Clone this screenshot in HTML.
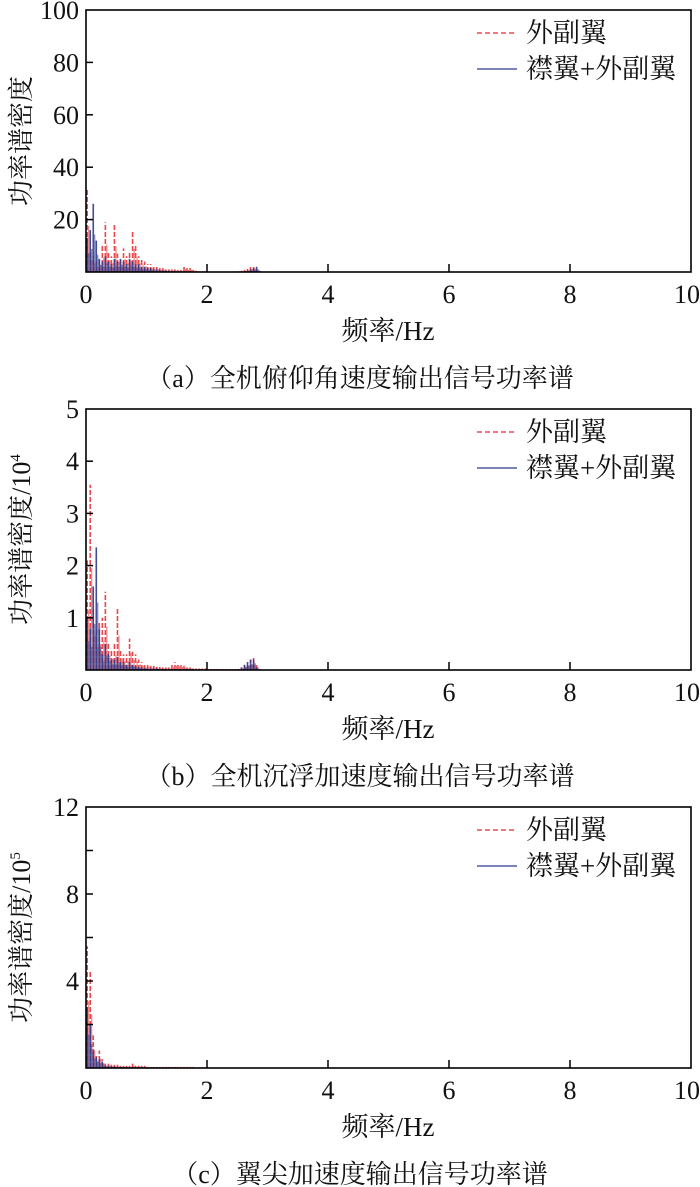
<!DOCTYPE html>
<html><head><meta charset="utf-8">
<style>
html,body{margin:0;padding:0;background:#fff;}
svg{display:block;font-family:"Liberation Serif","Noto Serif CJK SC",serif;}
</style></head>
<body>
<svg id="chart" width="700" height="1187" viewBox="0 0 700 1187"></svg>
<script>
const freqs = [0.02,0.07,0.12,0.17,0.22,0.27,0.32,0.37,0.42,0.47,
0.52,0.57,0.62,0.67,0.72,0.77,0.82,0.87,0.92,0.97,
1.02,1.07,1.12,1.17,1.22,1.27,1.32,1.37,1.42,1.47,
1.52,1.57,1.62,1.67,1.72,1.77,1.82,1.87,1.92,1.97,
2.02,2.07,2.12,2.17,2.22,2.27,2.32,2.37,2.42,2.47,
2.52,2.57,2.62,2.67,2.72,2.77,2.82,2.87];
const xTicks = [0,2,4,6,8,10];
const redA = [32,8,6,4,5,10,19,8,6,18, 7,5,9,6,8,16,10,6,5,4, 3,3,2,2,1.5,1.5,1,1,1,1, 0.8,0.8,2,1.5,1.5,0.8,0.5,0.3,0.3,0.3, 0.2,0.2,0.2,0.2,0.2,0.2,0.2,0.2,0.2,0.3, 0.3,0.5,0.8,1.2,2,2.5,0.8,0.1];
const blueA = [13,16,26,12,5,4,6,4,3,5, 4,5,4,3,5,4,3,3,2,2, 1.5,1.5,1,1,0.8,0.6,0.5,0.5,0.4,0.4, 0.3,0.3,0.3,0.3,0.3,0.2,0.2,0.2,0.2,0.2, 0.1,0.1,0.1,0.1,0.1,0.1,0.1,0.1,0.1,0.1, 0.1,0.2,0.3,0.5,1,1.5,2,0.5];
const redB = [2.1,3.55,1.2,0.8,0.9,1.0,1.5,0.5,0.4,0.5, 1.2,0.4,0.3,0.3,0.6,0.35,0.3,0.2,0.15,0.1, 0.1,0.08,0.08,0.06,0.06,0.05,0.05,0.05,0.1,0.15, 0.12,0.1,0.08,0.05,0.05,0.03,0.03,0.03,0.03,0.03, 0.02,0.02,0.02,0.02,0.02,0.02,0.02,0.02,0.02,0.02, 0.02,0.05,0.1,0.15,0.2,0.25,0.1,0.02];
const blueB = [1.0,0.8,1.6,2.35,0.8,0.3,0.5,0.3,0.2,0.2, 0.25,0.15,0.15,0.1,0.15,0.1,0.08,0.06,0.05,0.04, 0.03,0.03,0.03,0.03,0.02,0.02,0.02,0.02,0.02,0.02, 0.02,0.02,0.02,0.02,0.02,0.02,0.01,0.01,0.01,0.01, 0.01,0.01,0.01,0.01,0.01,0.01,0.01,0.01,0.01,0.01, 0.02,0.05,0.1,0.15,0.2,0.2,0.05,0.01];
const redC = [5.6,4.5,1.5,0.6,0.8,0.4,0.2,0.2,0.15,0.15, 0.15,0.1,0.1,0.1,0.1,0.2,0.1,0.1,0.1,0.1, 0.05,0.05,0.05,0.05,0.05,0.05,0.05,0.05,0.05,0.05, 0.05,0.05,0.05,0.05,0.05,0.05,0.03,0.03,0.03,0.03, 0.02,0.02,0.02,0.02,0.02,0.02,0.02,0.02,0.02,0.02, 0.02,0.02,0.02,0.02,0.02,0.02,0.02,0.02];
const blueC = [2.8,2.0,0.8,0.5,0.4,0.3,0.1,0.1,0.08,0.08, 0.05,0.05,0.05,0.04,0.04,0.04,0.03,0.03,0.03,0.03, 0.03,0.03,0.03,0.03,0.03,0.03,0.03,0.03,0.03,0.03, 0.02,0.02,0.02,0.02,0.02,0.02,0.02,0.02,0.02,0.02, 0.01,0.01,0.01,0.01,0.01,0.01,0.01,0.01,0.01,0.01, 0.01,0.01,0.01,0.01,0.01,0.01,0.01,0.01];
const yTicksA = [20,40,60,80,100], yLabelsA = [20,40,60,80,100];
const yTicksB = [1,2,3,4,5], yLabelsB = [1,2,3,4,5];
const yTicksC = [2,4,6,8,10,12], yLabelsC = [4,8,12];

const NS = "http://www.w3.org/2000/svg";
const svg = document.getElementById('chart');
function mk(tag, attrs, parent, text){
  const e = document.createElementNS(NS, tag);
  for (const k in attrs) e.setAttribute(k, attrs[k]);
  if (text !== undefined) e.textContent = text;
  (parent||svg).appendChild(e);
  return e;
}
const L = 86, R = 691;
const panels = [
 {top:10, bot:272, ymax:100, red:redA, blue:blueA, yt:yTicksA, yl:yLabelsA, ytitle:'功率谱密度', sup:'', cap:'（a）全机俯仰角速度输出信号功率谱', id:'a'},
 {top:409, bot:670, ymax:5, red:redB, blue:blueB, yt:yTicksB, yl:yLabelsB, ytitle:'功率谱密度/10', sup:'4', cap:'（b）全机沉浮加速度输出信号功率谱', id:'b'},
 {top:807, bot:1068, ymax:12, red:redC, blue:blueC, yt:yTicksC, yl:yLabelsC, ytitle:'功率谱密度/10', sup:'5', cap:'（c）翼尖加速度输出信号功率谱', id:'c'}
];
panels.forEach(p=>{
  const g = mk('g',{});
  
  
  const xs = v => L + (v/10)*(R-L);
  const ys = v => p.bot - (v/p.ymax)*(p.bot-p.top);
  [['red',p.red,'#e8282c','5,2',0.85],['blue',p.blue,'#2e3a8c','',0.9]].forEach(([nm,arr,col,dash,op])=>{
    const sg = mk('g',{},g);
    
    
    arr.forEach((v,i)=>{
      const x = xs(freqs[i]);
      const a = {x1:x,x2:x,y1:p.bot,y2:ys(v),stroke:col,'stroke-width':1.6,opacity:op};
      if(dash) a['stroke-dasharray']=dash;
      const ln = mk('line',a,sg);
      
      
      const ln2 = mk('line',{x1:x+1.5,x2:x+1.5,y1:p.bot,y2:ys(v*0.55),stroke:col,'stroke-width':1,opacity:op*0.8},sg);
      
      
    });
  });
  const fr = mk('rect',{x:L,y:p.top,width:R-L,height:p.bot-p.top,fill:'none',stroke:'#000','stroke-width':1.6},g);
  
  
  xTicks.forEach(t=>{
    const x = xs(t);
    if(t>0 && t<10) mk('line',{x1:x,x2:x,y1:p.bot,y2:p.bot-8,stroke:'#000','stroke-width':1.5},g);
    const tx = mk('text',{x:t===10?x-4:x,y:p.bot+31,'font-size':26,'text-anchor':'middle',fill:'#111'},g,String(t));
    
    
  });
  p.yt.forEach(t=>{
    const y = ys(t);
    if(t<p.ymax) mk('line',{x1:L,x2:L+7,y1:y,y2:y,stroke:'#000','stroke-width':1.5},g);
  });
  p.yl.forEach(t=>{
    const ty = mk('text',{x:L-7,y:ys(t)+9,'font-size':26,'text-anchor':'end',fill:'#111'},g,String(t));
    
    
  });
  const cy = (p.top+p.bot)/2;
  const yt = mk('text',{x:0,y:0,'font-size':26,'text-anchor':'middle',fill:'#111',transform:`translate(30,${cy}) rotate(-90)`},g,p.ytitle);
  
  
  if(p.sup){ mk('tspan',{'font-size':15,dy:-10},yt,p.sup); }
  const xt = mk('text',{x:388,y:p.bot+68,'font-size':27,'text-anchor':'middle',fill:'#111'},g,'频率/Hz');
  
  
  const cp = mk('text',{x:360,y:p.bot+115,'font-size':26,'text-anchor':'middle',fill:'#111'},g,p.cap);
  
  
  const lg = mk('g',{},g);
  
  
  const y1 = p.top+23, y2 = p.top+59;
  mk('line',{x1:477,x2:517,y1:y1,y2:y1,stroke:'#e8282c','stroke-width':1.3,'stroke-dasharray':'5,3'},lg);
  const t1 = mk('text',{x:526,y:y1+9,'font-size':27,fill:'#111'},lg,'外副翼');
  
  
  mk('line',{x1:477,x2:517,y1:y2,y2:y2,stroke:'#2e3a8c','stroke-width':1.3},lg);
  const t2 = mk('text',{x:526,y:y2+9,'font-size':27,fill:'#111'},lg,'襟翼+外副翼');
  
  
});
</script>
</body></html>
